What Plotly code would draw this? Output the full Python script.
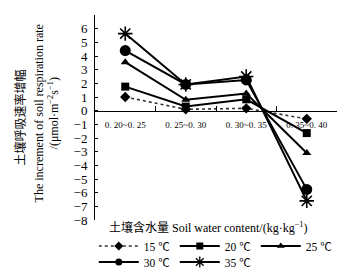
import plotly.graph_objects as go

categories = ["0. 20~0. 25", "0. 25~0. 30", "0. 30~0. 35", "0. 35~0. 40"]
t15 = [1.0, 0.1, 0.17, -0.6]
t20 = [1.76, 0.3, 0.83, -1.64]
t25 = [3.55, 0.8, 1.25, -3.1]
t30 = [4.4, 1.92, 2.25, -5.76]
t35 = [5.64, 1.92, 2.5, -6.6]
names = ["15 ℃", "20 ℃", "25 ℃", "30 ℃", "35 ℃"]

SERIF = "Liberation Serif, Times New Roman, Noto Sans CJK SC, serif"

fig = go.Figure()
specs = [
    (t15, names[0], dict(dash="dot", width=1.6, color="#333"), "diamond", 8, 7, "legend"),
    (t20, names[1], dict(width=2, color="black"), "square", 8, 7, "legend"),
    (t25, names[2], dict(width=2, color="black"), "triangle-up", 8, 7, "legend"),
    (t30, names[3], dict(width=2, color="black"), "circle", 11, 7, "legend2"),
    (t35, names[4], dict(width=2, color="black"), "asterisk-open", 12, 9, "legend2"),
]
for vals, name, line, sym, size, lsize, lg in specs:
    mline = dict(width=1.6, color="black") if "open" in sym else dict(width=0)
    fig.add_trace(go.Scatter(x=categories, y=vals, name=name, mode="lines+markers",
                             line=line, showlegend=False,
                             marker=dict(symbol=sym, size=size, color="black", line=mline)))
for vals, name, line, sym, size, lsize, lg in specs:
    mline = dict(width=1.3, color="black") if "open" in sym else dict(width=0)
    fig.add_trace(go.Scatter(x=[None], y=[None], name=name, mode="lines+markers",
                             line=line, showlegend=True, legend=lg,
                             marker=dict(symbol=sym, size=lsize, color="black", line=mline)))

leg_common = dict(orientation="h", x=-0.005, xanchor="left", yanchor="middle",
                  entrywidth=26, entrywidthmode="pixels", font=dict(size=11.5, family=SERIF),
                  tracegroupgap=0, itemwidth=40, bgcolor="rgba(0,0,0,0)")

fig.update_layout(
    width=341, height=267,
    margin=dict(l=87, r=12, t=7, b=55, autoexpand=False),
    paper_bgcolor="white", plot_bgcolor="white",
    font=dict(family=SERIF, size=12, color="black"),
    showlegend=True,
    legend=dict(y=(220 - 246) / 205, **leg_common),
    legend2=dict(y=(220 - 262) / 205, **leg_common),
    xaxis=dict(type="category", categoryorder="array", categoryarray=categories,
               range=[-0.5, 3.5], anchor="free", position=8 / 15, automargin=False,
               showline=True, linecolor="black", linewidth=1,
               ticks="inside", ticklen=5, tickcolor="black", tickson="boundaries",
               ticklabelstandoff=6,
               showgrid=False, zeroline=False, tickfont=dict(size=9, family=SERIF)),
    yaxis=dict(range=[-8, 7], dtick=1, showline=True, linecolor="black", linewidth=1,
               ticks="inside", ticklen=3, tickcolor="black", showgrid=False, zeroline=False,
               automargin=False, ticklabelstandoff=4,
               tickfont=dict(size=13, family=SERIF)),
)

fig.add_annotation(text="土壤含水量 Soil water content/(kg·kg<sup>−1</sup>)",
                   xref="paper", yref="paper", x=0.47, y=-0.035, xanchor="center", yanchor="middle",
                   showarrow=False, font=dict(size=12, family=SERIF))
fig.add_annotation(text="土壤呼吸速率增幅", textangle=-90,
                   xref="paper", yref="paper", x=(20 - 95) / 242, y=0.5, xanchor="center", yanchor="middle",
                   showarrow=False, font=dict(size=12, family=SERIF))
fig.add_annotation(text="The increment of soil respiration rate", textangle=-90,
                   xref="paper", yref="paper", x=(39 - 95) / 242, y=0.52, xanchor="center", yanchor="middle",
                   showarrow=False, font=dict(size=12, family=SERIF))
fig.add_annotation(text="/(μmol·m<sup>−2</sup>s<sup>−1</sup>)", textangle=-90,
                   xref="paper", yref="paper", x=(53 - 95) / 242, y=0.52, xanchor="center", yanchor="middle",
                   showarrow=False, font=dict(size=12, family=SERIF))

fig.write_html("out.html")
